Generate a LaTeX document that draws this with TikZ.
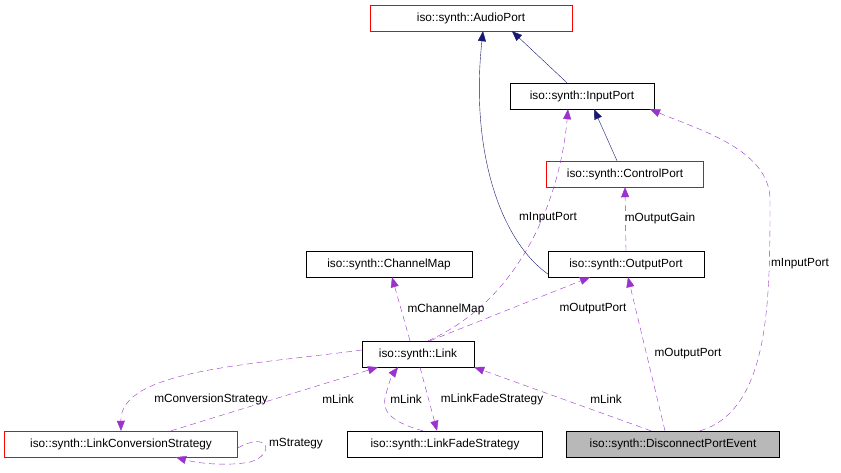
\documentclass[tikz,border=0pt]{standalone}
\usepackage{fontspec}
\setmainfont{Liberation Sans}
\usetikzlibrary{arrows.meta}
\definecolor{edgepurple}{HTML}{9A32CD}
\definecolor{edgenavy}{HTML}{191970}

\begin{document}
\begin{tikzpicture}[
                            x=1pt,
                            y=-1pt,
                            font=\fontsize{11.8}{13}\selectfont,
                            >={Triangle[length=10pt,width=8pt,fill=edgepurple]}
                        ]
                        \tikzstyle{cls}=[draw=black,fill=white,inner sep=0pt,minimum height=26pt]
                        \tikzstyle{redcls}=[cls,draw=red]
                        \tikzstyle{inherit}=[-{Triangle[length=10pt,width=8pt,fill=edgenavy]},draw=edgenavy]
                        \tikzstyle{uses}=[->,draw=edgepurple,dash pattern=on 6pt off 4pt]
                        \tikzstyle{lbl}=[inner sep=1pt]
                        \useasboundingbox (0,0) rectangle (841,472);

                        \node[redcls,minimum width=202pt] (audio)   at (471,18)  {iso::synth::AudioPort};
                        \node[cls,minimum width=144pt]    (input)   at (582,96)  {iso::synth::InputPort};
                        \node[redcls,minimum width=157pt] (control) at (625,174) {iso::synth::ControlPort};
                        \node[cls,minimum width=166pt]    (chmap)   at (389,264) {iso::synth::ChannelMap};
                        \node[cls,minimum width=156pt]    (output)  at (626,264) {iso::synth::OutputPort};
                        \node[cls,minimum width=112pt]    (link)    at (418,354) {iso::synth::Link};
                        \node[redcls,minimum width=233pt] (convs)   at (121,444) {iso::synth::LinkConversionStrategy};
                        \node[cls,minimum width=195pt]    (fades)   at (445,444) {iso::synth::LinkFadeStrategy};
                        \node[cls,fill=black!28,minimum width=213pt] (event) at (673,444) {iso::synth::DisconnectPortEvent};

                        % inheritance
                        \draw[inherit] ([xshift=-15pt]input.north) -- ([xshift=41pt]audio.south);
                        \draw[inherit] ([yshift=-10pt]output.west) .. controls (500,240) and (470,150) .. ([xshift=12pt]audio.south);
                        \draw[inherit] ([xshift=-8pt]control.north) -- ([xshift=12pt]input.south);

                        % usage
                        \draw[uses] (output.north) -- (control.south);
                        \node[lbl] (gainlbl) at (660,218) {mOutputGain};
                        \draw[uses] ([xshift=10pt]link.north) .. controls (520,300) and (560,200) .. ([xshift=-14pt]input.south);
                        \node[lbl] (inlbl1) at (548,218) {mInputPort};
                        \draw[uses] ([xshift=27pt]event.north) .. controls (770,410) and (770,300) .. (770,200)
                            .. controls (770,150) and (700,130) .. ([xshift=68pt]input.south);
                        \node[lbl] (inlbl2) at (800,264) {mInputPort};
                        \draw[uses] ([xshift=-8pt]event.north) -- ([xshift=2pt]output.south);
                        \node[lbl] (outlbl2) at (688,354) {mOutputPort};
                        \draw[uses] ([xshift=-8pt]link.north) -- ([xshift=3pt]chmap.south);
                        \node[lbl] (chlbl) at (446,309) {mChannelMap};
                        \draw[uses] ([xshift=12pt]link.north) -- ([xshift=-36pt]output.south);
                        \node[lbl] (outlbl1) at (593,309) {mOutputPort};
                        \draw[uses] ([xshift=-22pt]event.north) -- (link.south east);
                        \node[lbl] (lnklbl3) at (606,399) {mLink};
                        \draw[uses] ([yshift=4pt]link.west) .. controls (250,365) and (120,370) .. (convs.north);
                        \node[lbl] (convlbl) at (211,399) {mConversionStrategy};
                        \draw[uses] ([xshift=50pt]convs.north) -- ([xshift=-40pt]link.south);
                        \node[lbl] (lnklbl1) at (338,399) {mLink};
                        \draw[uses] ([yshift=-4pt]convs.east) .. controls (270,430) and (275,455) .. (250,462)
                            .. controls (230,466) and (200,464) .. ([xshift=55pt]convs.south);
                        \node[lbl] (strat) at (296,444) {mStrategy};
                        \draw[uses] ([xshift=-22pt]fades.north) .. controls (390,422) and (382,410) .. (385,398)
                            .. controls (388,385) and (392,375) .. ([xshift=-20pt]link.south);
                        \node[lbl] (lnklbl2) at (406,399) {mLink};
                        \draw[uses] ([xshift=2pt]link.south) -- ([xshift=-8pt]fades.north);
                        \node[lbl] (fadelbl) at (492,399) {mLinkFadeStrategy};
                    \end{tikzpicture}
\end{document}
